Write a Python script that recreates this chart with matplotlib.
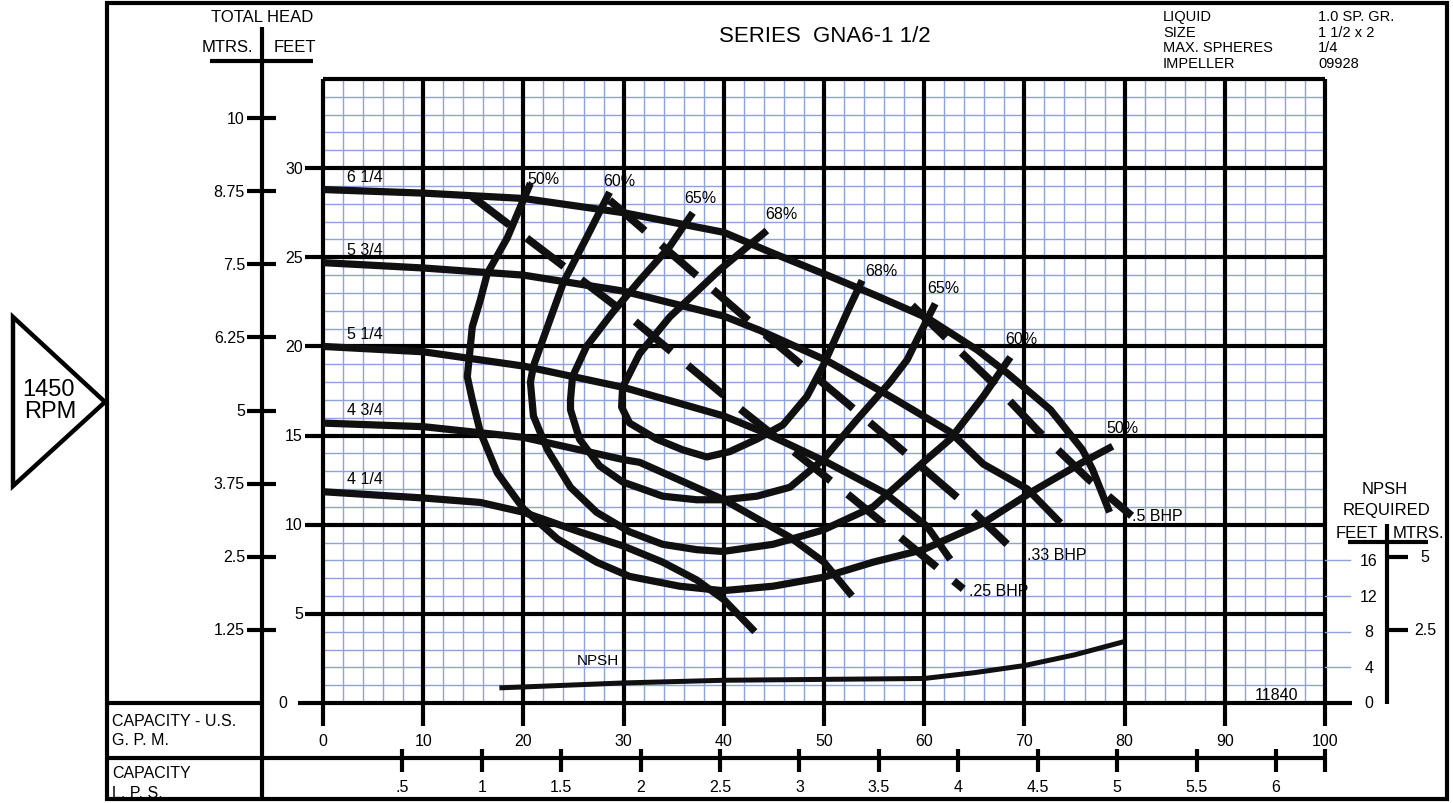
import numpy as np
import matplotlib.pyplot as plt
from matplotlib.transforms import blended_transform_factory
from matplotlib.patches import Polygon, Rectangle

plt.rcParams['font.family'] = ['Liberation Sans', 'DejaVu Sans']
plt.rcParams['font.size'] = 11.5

W, H = 1453, 804

# head-capacity curves per impeller dia. (capacity US GPM, head feet)
q_625 = [0, 10, 20, 30, 40, 44.6, 50.3, 55, 60.3, 65.3, 68.3, 72.6, 75.8, 76.8, 78.5]
h_625 = [28.8, 28.6, 28.3, 27.5, 26.4, 25.3, 24.0, 22.9, 21.6, 19.8, 18.5, 16.45, 14.2, 13.1, 10.7]
q_575 = [0, 10, 20, 30, 40, 43.6, 50.3, 56.6, 62.6, 65.9, 70.3, 73.6]
h_575 = [24.7, 24.4, 24.0, 23.1, 21.7, 20.9, 19.2, 17.2, 15.2, 13.4, 12.0, 10.1]
q_525 = [0, 10, 20, 30, 40, 43.9, 50.3, 56.0, 60.3, 62.6]
h_525 = [20.0, 19.7, 18.9, 17.7, 16.1, 15.2, 13.5, 11.8, 9.9, 8.05]
q_475 = [0, 10, 20, 30, 31.6, 40, 46.6, 50, 52.8]
h_475 = [15.7, 15.5, 14.9, 13.65, 13.5, 11.4, 9.3, 7.9, 6.0]
q_425 = [0, 10, 15.7, 20, 25.6, 30, 33.9, 37.3, 40, 43.1]
h_425 = [11.85, 11.5, 11.25, 10.7, 9.6, 8.8, 7.9, 6.9, 5.8, 4.0]
imp_names = ['6 1/4', '5 3/4', '5 1/4', '4 3/4', '4 1/4']

# iso-efficiency lines
q_e50 = [20.7, 18.4, 16.4, 15.7, 14.9, 14.4, 14.9, 15.7, 17.4, 20.0, 23.4, 27.3, 30.6, 35.6,
         39.9, 44.9, 49.9, 54.9, 59.9, 65.9, 70.9, 75.8, 78.8]
h_e50 = [29.15, 26.1, 24.1, 22.6, 21.1, 18.3, 17.0, 15.2, 12.9, 10.9, 9.2, 7.9, 7.1, 6.55,
         6.3, 6.55, 7.05, 7.9, 8.6, 10.1, 11.9, 13.5, 14.4]
q_e60 = [28.6, 26.3, 24.0, 22.4, 21.0, 20.7, 21.0, 22.4, 24.7, 27.3, 30.6, 33.9, 37.3, 39.9,
         44.9, 49.9, 54.9, 59.9, 62.6, 65.9, 68.6]
h_e60 = [28.65, 26.1, 23.6, 21.1, 18.9, 18.0, 16.1, 14.2, 12.1, 10.7, 9.6, 8.9, 8.6, 8.5,
         8.9, 9.7, 11.0, 13.5, 14.8, 17.2, 19.4]
q_e65 = [36.9, 34.6, 31.6, 28.9, 26.3, 24.9, 24.7, 24.7, 25.6, 27.6, 29.9, 33.9, 37.3, 39.9,
         43.3, 46.6, 49.9, 53.3, 56.6, 58.3, 59.3, 61.1]
h_e65 = [27.5, 25.6, 23.7, 21.9, 20.0, 18.3, 17.0, 16.45, 14.8, 13.3, 12.4, 11.6, 11.4, 11.4,
         11.6, 12.1, 13.65, 15.9, 18.0, 19.25, 20.4, 22.4]
q_e68 = [44.3, 39.6, 34.6, 31.6, 29.9, 29.8, 30.6, 33.3, 35.9, 38.3, 40.6, 43.3, 45.9, 48.3,
         49.9, 52.3, 53.8]
h_e68 = [26.5, 24.3, 21.65, 19.6, 17.7, 16.6, 15.7, 14.8, 14.2, 13.8, 14.1, 14.8, 15.6, 17.2,
         18.9, 21.9, 23.7]
eff_names = ['50%', '60%', '65%', '68%']

# brake horsepower lines
q_bhp25 = [14.9, 30.3, 41.4, 52.6, 63.9]
h_bhp25 = [28.4, 21.8, 16.6, 11.6, 6.4]
q_bhp33 = [28.6, 42.8, 53.6, 64.4, 69.4]
h_bhp33 = [28.2, 21.3, 16.2, 11.0, 8.3]
q_bhp50 = [58.8, 66.4, 71.3, 76.3, 80.7]
h_bhp50 = [22.3, 18.2, 15.3, 12.6, 10.5]
bhp_names = ['.25 BHP', '.33 BHP', '.5 BHP']

# NPSH required (feet)
q_npsh = [17.6, 20, 30, 40, 50, 60, 65, 70, 75, 80]
npsh_ft = [1.7, 1.8, 2.25, 2.55, 2.65, 2.75, 3.4, 4.2, 5.4, 6.9]

# axis scales
gpm_ticks = list(range(0, 101, 10))
feet_ticks = [0, 5, 10, 15, 20, 25, 30]
mtr_ticks = [1.25, 2.5, 3.75, 5, 6.25, 7.5, 8.75, 10]
mtr_labels = ['1.25', '2.5', '3.75', '5', '6.25', '7.5', '8.75', '10']
lps_ticks = [0.5, 1, 1.5, 2, 2.5, 3, 3.5, 4, 4.5, 5, 5.5, 6]
lps_labels = ['.5', '1', '1.5', '2', '2.5', '3', '3.5', '4', '4.5', '5', '5.5', '6']
npsh_ft_ticks = [0, 4, 8, 12, 16]
npsh_m_ticks = [2.5, 5]
FT_PER_M = 3.28084
GPM_PER_LPS = 15.8503

BLUE = '#8fa2dc'
INK = '#101010'


def fx(px):
    return px / W


def fy(py):
    return 1 - py / H


fig = plt.figure(figsize=(W / 100, H / 100), dpi=100)
ax = fig.add_axes([fx(323), fy(704), fx(1325) - fx(323), fy(80) - fy(704)])
ax.set_xlim(0, 100)
ax.set_ylim(0, 35)
ax.axis('off')
ax2 = ax.twinx()
ax2.set_ylim(0, 70)
ax2.axis('off')

yT = blended_transform_factory(fig.transFigure, ax.transData)
xT = blended_transform_factory(ax.transData, fig.transFigure)
nT = blended_transform_factory(fig.transFigure, ax2.transData)
fT = fig.transFigure

kw = dict(color='k', lw=3.0, solid_capstyle='butt', clip_on=False)

#==============================================================================
# grid
#==============================================================================
for g in range(2, 100, 2):
    if g % 10:
        ax.plot([g, g], [0, 35], color=BLUE, lw=1.0, zorder=1)
for h in range(1, 35):
    if h % 5:
        ax.plot([0, 100], [h, h], color=BLUE, lw=1.0, zorder=1)

for g in gpm_ticks:
    ax.plot([g, g], [fy(80), fy(727)], transform=xT, zorder=2, **kw)
for h in feet_ticks[1:]:
    ax.plot([fx(305), fx(1325)], [h, h], transform=yT, zorder=2, **kw)
ax.plot([0, 100], [35, 35], zorder=2, **kw)
ax.plot([fx(298), fx(1352)], [0, 0], transform=yT, zorder=2, **kw)

#==============================================================================
# curves
#==============================================================================
ckw = dict(color=INK, lw=5.2, solid_capstyle='butt', solid_joinstyle='round', zorder=3)
imp_q = [q_625, q_575, q_525, q_475, q_425]
imp_h = [h_625, h_575, h_525, h_475, h_425]
for q, h, name in zip(imp_q, imp_h, imp_names):
    ax.plot(q, h, **ckw)
    ax.text(2.4, h[0] + 0.75, name, ha='left', va='center', fontsize=11.5)

eff_q = [q_e50, q_e60, q_e65, q_e68]
eff_h = [h_e50, h_e60, h_e65, h_e68]
start_off = [(-3, 5), (-6, 12), (-8, 15), (-2, 17)]
end_off = [(-6, 19), (-5, 19), (-8, 16), (3, 10)]
for q, h, name, so, eo in zip(eff_q, eff_h, eff_names, start_off, end_off):
    ax.plot(q, h, **ckw)
    ax.annotate(name, (q[0], h[0]), xytext=so, textcoords='offset pixels',
                ha='left', va='center')
    ax.annotate(name, (q[-1], h[-1]), xytext=eo, textcoords='offset pixels',
                ha='left', va='center')

bhp_q = [q_bhp25, q_bhp33, q_bhp50]
bhp_h = [h_bhp25, h_bhp33, h_bhp50]
bhp_off = [(6, -2), (9, 1), (0, 0)]
for q, h, name, off in zip(bhp_q, bhp_h, bhp_names, bhp_off):
    ax.plot(q, h, color=INK, lw=5.6, dashes=(6, 2.8), dash_capstyle='butt', zorder=3)
    ax.annotate(name, (q[-1], h[-1]), xytext=off, textcoords='offset pixels',
                ha='left', va='center')

ax2.plot(q_npsh, npsh_ft, color=INK, lw=3.6, solid_capstyle='butt', zorder=3)
ax2.text(27.4, 4.8, 'NPSH', ha='center', va='center', fontsize=11)
ax2.text(95.2, 1.0, '11840', ha='center', va='center', fontsize=11.5)

#==============================================================================
# head scales (feet and meters)
#==============================================================================
for h in feet_ticks:
    ax.text(fx(287) if h == 0 else fx(303), h, str(h), transform=yT,
            ha='right', va='center')

ax.plot([fx(262), fx(262)], [fy(28), fy(800)], transform=fT, **kw)
ax.plot([fx(210), fx(313)], [fy(62), fy(62)], transform=fT, **kw)
for m, lab in zip(mtr_ticks, mtr_labels):
    ax.plot([fx(247), fx(276)], [m * FT_PER_M] * 2, transform=yT, **kw)
    ax.text(fx(245), m * FT_PER_M, lab, transform=yT, ha='right', va='center')

fig.text(fx(262), fy(17), 'TOTAL HEAD', ha='center', va='center', fontsize=12)
fig.text(fx(227), fy(47), 'MTRS.', ha='center', va='center', fontsize=12)
fig.text(fx(295), fy(47), 'FEET', ha='center', va='center', fontsize=12)

#==============================================================================
# capacity scales (GPM and L/s)
#==============================================================================
for g in gpm_ticks:
    ax.text(g, fy(742), str(g), transform=xT, ha='center', va='center')

ax.plot([fx(107), fx(1325)], [fy(759), fy(759)], transform=fT, **kw)
ax.plot([fx(107), fx(262)], [fy(704), fy(704)], transform=fT, **kw)
for v, lab in zip(lps_ticks, lps_labels):
    g = v * GPM_PER_LPS
    ax.plot([g, g], [fy(750), fy(773)], transform=xT, **kw)
    ax.text(g, fy(788), lab, transform=xT, ha='center', va='center')
ax.plot([100, 100], [fy(750), fy(773)], transform=xT, **kw)

fig.text(fx(112), fy(722), 'CAPACITY - U.S.', ha='left', va='center', fontsize=11.5)
fig.text(fx(112), fy(741), 'G. P. M.', ha='left', va='center', fontsize=11.5)
fig.text(fx(112), fy(774), 'CAPACITY', ha='left', va='center', fontsize=11.5)
fig.text(fx(112), fy(794), 'L. P. S.', ha='left', va='center', fontsize=11.5)

#==============================================================================
# NPSH scale
#==============================================================================
for n in npsh_ft_ticks:
    if n:
        ax2.plot([fx(1325), fx(1350)], [n, n], transform=nT, color=BLUE, lw=1.0,
                 clip_on=False)
    ax2.text(fx(1369), n, str(n), transform=nT, ha='center', va='center')
ax2.plot([fx(1387), fx(1387)], [fy(525), fy(705)], transform=fT, **kw)
ax2.plot([fx(1348), fx(1428)], [fy(543), fy(543)], transform=fT, **kw)
for m in npsh_m_ticks:
    ax2.plot([fx(1387), fx(1408)], [m * FT_PER_M] * 2, transform=nT, **kw)
    ax2.text(fx(1425), m * FT_PER_M, f'{m:g}', transform=nT, ha='center', va='center')

fig.text(fx(1385), fy(490), 'NPSH', ha='center', va='center', fontsize=12)
fig.text(fx(1387), fy(510), 'REQUIRED', ha='center', va='center', fontsize=12)
fig.text(fx(1357), fy(533), 'FEET', ha='center', va='center', fontsize=12)
fig.text(fx(1418), fy(533), 'MTRS.', ha='center', va='center', fontsize=12)

#==============================================================================
# title block and frame
#==============================================================================
fig.text(fx(825), fy(37), 'SERIES  GNA6-1 1/2', ha='center', va='center', fontsize=16)
info_keys = ['LIQUID', 'SIZE', 'MAX. SPHERES', 'IMPELLER']
info_vals = ['1.0 SP. GR.', '1 1/2 x 2', '1/4', '09928']
for i, (k, v) in enumerate(zip(info_keys, info_vals)):
    y = fy(17 + 15.6 * i)
    fig.text(fx(1163), y, k, ha='left', va='center', fontsize=10.5)
    fig.text(fx(1318), y, v, ha='left', va='center', fontsize=10.5)

fig.add_artist(Rectangle((fx(107), fy(800)), fx(1447) - fx(107), fy(4) - fy(800),
                         transform=fT, fill=False, ec='k', lw=3.0))
fig.add_artist(Polygon([[fx(13), fy(318)], [fx(13), fy(487)], [fx(105), fy(403)]],
                       closed=True, transform=fT, fc='white', ec='k', lw=3.2,
                       joinstyle='miter'))
fig.text(fx(49), fy(390), '1450', ha='center', va='center', fontsize=17)
fig.text(fx(50), fy(412), 'RPM', ha='center', va='center', fontsize=17)

fig.savefig('out.png', dpi=100)
